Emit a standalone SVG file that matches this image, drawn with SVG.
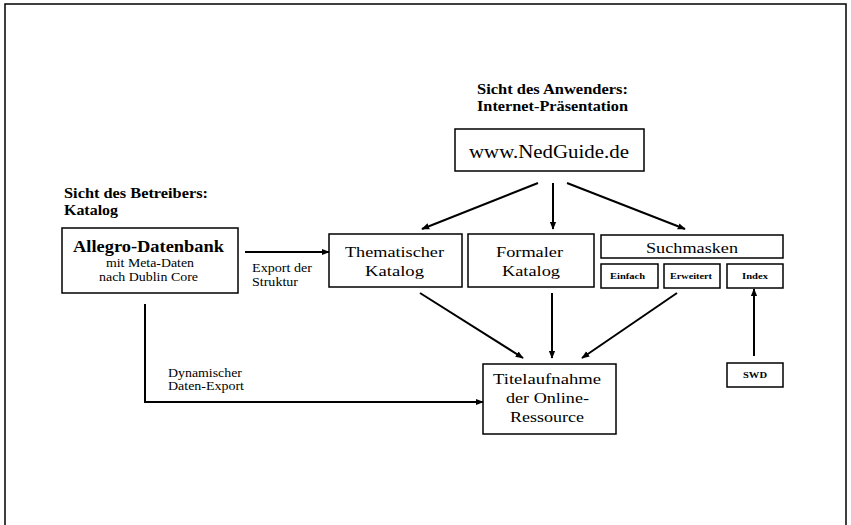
<svg xmlns="http://www.w3.org/2000/svg" width="851" height="525" viewBox="0 0 851 525">
<defs>
<marker id="ah" viewBox="0 0 10 10" refX="9" refY="5" markerWidth="4" markerHeight="4" orient="auto" markerUnits="strokeWidth">
<path d="M0,1 L10,5 L0,9 z" fill="#000"/>
</marker>
<style>
text{font-family:"Liberation Serif","Tinos","DejaVu Serif",serif;fill:#000}
.box{fill:#fff;stroke:#000;stroke-width:1.5}
.h{font-weight:bold;font-size:15px}
.m{font-size:15px}
.c{stroke:#000;stroke-width:2;fill:none;marker-end:url(#ah)}
.s{font-size:11.5px}
.b{font-weight:bold;font-size:8.5px}
</style>
</defs>
<rect width="851" height="525" fill="#fff"/>
<path d="M5,525 L5,4 L846,4 L846,525" fill="none" stroke="#000" stroke-width="1.5"/>

<g id="headings">
<text class="h" x="477" y="94" textLength="151" lengthAdjust="spacingAndGlyphs">Sicht des Anwenders:</text>
<text class="h" x="477" y="111" textLength="151" lengthAdjust="spacingAndGlyphs">Internet-Präsentation</text>
<text class="h" x="64" y="198" textLength="144" lengthAdjust="spacingAndGlyphs">Sicht des Betreibers:</text>
<text class="h" x="64" y="215" textLength="54" lengthAdjust="spacingAndGlyphs">Katalog</text>
</g>

<g id="nedguide">
<rect class="box" x="455" y="129" width="189" height="42"/>
<text x="469" y="158" font-size="19" textLength="160" lengthAdjust="spacingAndGlyphs">www.NedGuide.de</text>
</g>
<g id="allegro">
<rect class="box" x="62" y="228" width="176" height="65"/>
<text x="73" y="252" font-size="17" font-weight="bold" textLength="151" lengthAdjust="spacingAndGlyphs">Allegro-Datenbank</text>
<text class="s" x="106" y="267" textLength="88" lengthAdjust="spacingAndGlyphs">mit Meta-Daten</text>
<text class="s" x="99" y="281" textLength="99" lengthAdjust="spacingAndGlyphs">nach Dublin Core</text>
</g>
<g id="thematisch">
<rect class="box" x="329" y="234" width="133" height="53"/>
<text class="m" x="345" y="257" textLength="99" lengthAdjust="spacingAndGlyphs">Thematischer</text>
<text class="m" x="365" y="276" textLength="59" lengthAdjust="spacingAndGlyphs">Katalog</text>
</g>
<g id="formal">
<rect class="box" x="468" y="234" width="126" height="53"/>
<text class="m" x="496" y="257" textLength="67" lengthAdjust="spacingAndGlyphs">Formaler</text>
<text class="m" x="502" y="276" textLength="58" lengthAdjust="spacingAndGlyphs">Katalog</text>
</g>
<g id="suchmasken">
<rect class="box" x="601" y="235" width="182" height="23"/>
<text class="m" x="646" y="253" textLength="92" lengthAdjust="spacingAndGlyphs">Suchmasken</text>
</g>
<g id="einfach">
<rect class="box" x="601" y="264" width="57" height="24"/>
<text class="b" x="610" y="279" textLength="35" lengthAdjust="spacingAndGlyphs">Einfach</text>
</g>
<g id="erweitert">
<rect class="box" x="664" y="264" width="56" height="24"/>
<text class="b" x="670" y="279" textLength="42" lengthAdjust="spacingAndGlyphs">Erweitert</text>
</g>
<g id="index">
<rect class="box" x="727" y="264" width="56" height="24"/>
<text class="b" x="742" y="279" textLength="26" lengthAdjust="spacingAndGlyphs">Index</text>
</g>
<g id="swd">
<rect class="box" x="727" y="363" width="56" height="24"/>
<text class="b" x="743" y="378" textLength="24" lengthAdjust="spacingAndGlyphs">SWD</text>
</g>
<g id="titel">
<rect class="box" x="483" y="364" width="133" height="70"/>
<text class="m" x="493" y="384" textLength="108" lengthAdjust="spacingAndGlyphs">Titelaufnahme</text>
<text class="m" x="506" y="403" textLength="83" lengthAdjust="spacingAndGlyphs">der Online-</text>
<text class="m" x="510" y="422" textLength="74" lengthAdjust="spacingAndGlyphs">Ressource</text>
</g>

<g id="labels">
<text class="s" x="252" y="272" textLength="60" lengthAdjust="spacingAndGlyphs">Export der</text>
<text class="s" x="252" y="286" textLength="46" lengthAdjust="spacingAndGlyphs">Struktur</text>
<text class="s" x="168" y="377" textLength="74" lengthAdjust="spacingAndGlyphs">Dynamischer</text>
<text class="s" x="168" y="390" textLength="76" lengthAdjust="spacingAndGlyphs">Daten-Export</text>
</g>

<g id="connectors">
<line class="c" x1="538" y1="183" x2="422" y2="229"/>
<line class="c" x1="553" y1="183" x2="553" y2="229"/>
<line class="c" x1="567" y1="183" x2="685" y2="229"/>
<line class="c" x1="245" y1="252" x2="329" y2="252"/>
<line class="c" x1="420" y1="293" x2="523" y2="358"/>
<line class="c" x1="552" y1="293" x2="552" y2="358"/>
<line class="c" x1="677" y1="293" x2="582" y2="358"/>
<line class="c" x1="754" y1="356" x2="754" y2="289"/>
<path class="c" d="M145,304 L145,402 L483,402"/>
</g>
</svg>
